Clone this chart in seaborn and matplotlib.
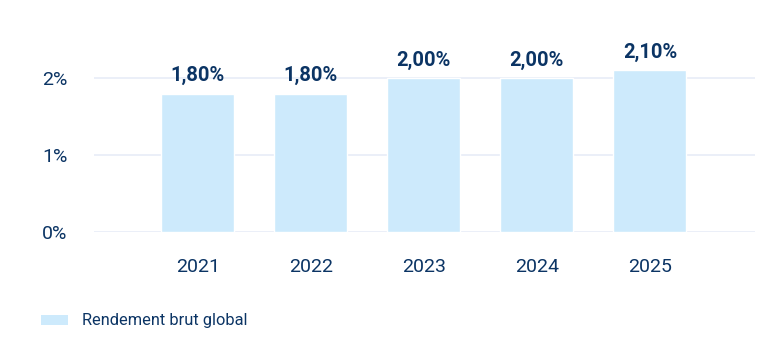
import matplotlib
matplotlib.use("Agg")
import matplotlib.pyplot as plt
import seaborn as sns
import pandas as pd
from matplotlib.patches import Patch

# Data
years = ["2021", "2022", "2023", "2024", "2025"]
rendement = [1.80, 1.80, 2.00, 2.00, 2.10]
value_labels = ["1,80%", "1,80%", "2,00%", "2,00%", "2,10%"]
y_ticks = [0, 1, 2]
y_tick_labels = ["0%", "1%", "2%"]
series_name = "Rendement brut global"

navy = "#0b3464"
bar_color = "#cdeafc"
grid_color = "#e7ecf7"

sns.set_style("white")
plt.rcParams["font.family"] = ["Roboto", "DejaVu Sans"]

df = pd.DataFrame({"Année": years, "Rendement": rendement})

W, H = 772, 363
fig = plt.figure(figsize=(W / 100, H / 100), dpi=100)
ax = fig.add_axes([94 / W, (H - 232) / H, (755 - 94) / W, (232 - 32) / H])

sns.barplot(data=df, x="Année", y="Rendement", color=bar_color, saturation=1,
            width=0.646, ax=ax, zorder=2)

ax.set_ylim(0, 2.6)
ax.set_xlim(-0.92, 4.93)
ax.set_yticks(y_ticks)
ax.set_yticklabels(y_tick_labels)
ax.yaxis.grid(True, color=grid_color, linewidth=1.2, zorder=0)
ax.set_axisbelow(True)
for s in ax.spines.values():
    s.set_visible(False)
ax.set_xlabel("")
ax.set_ylabel("")
ax.tick_params(axis="y", length=0, pad=19, labelsize=14, labelcolor=navy)
ax.tick_params(axis="x", length=0, pad=19, labelsize=14, labelcolor=navy)

for i, (v, lab) in enumerate(zip(rendement, value_labels)):
    ax.annotate(lab, (i, v), xytext=(0, 6), textcoords="offset points",
                ha="center", va="bottom", fontsize=14.5, fontweight="bold", color=navy)

handles = [Patch(facecolor=bar_color, edgecolor="none", label=series_name)]
fig.legend(handles=handles, loc="center left", bbox_to_anchor=(26 / W, 1 - 321 / H),
           frameon=False, fontsize=11.8, labelcolor=navy, handlelength=1.65,
           handleheight=0.6, handletextpad=0.85)

fig.savefig("out.png", dpi=100)
